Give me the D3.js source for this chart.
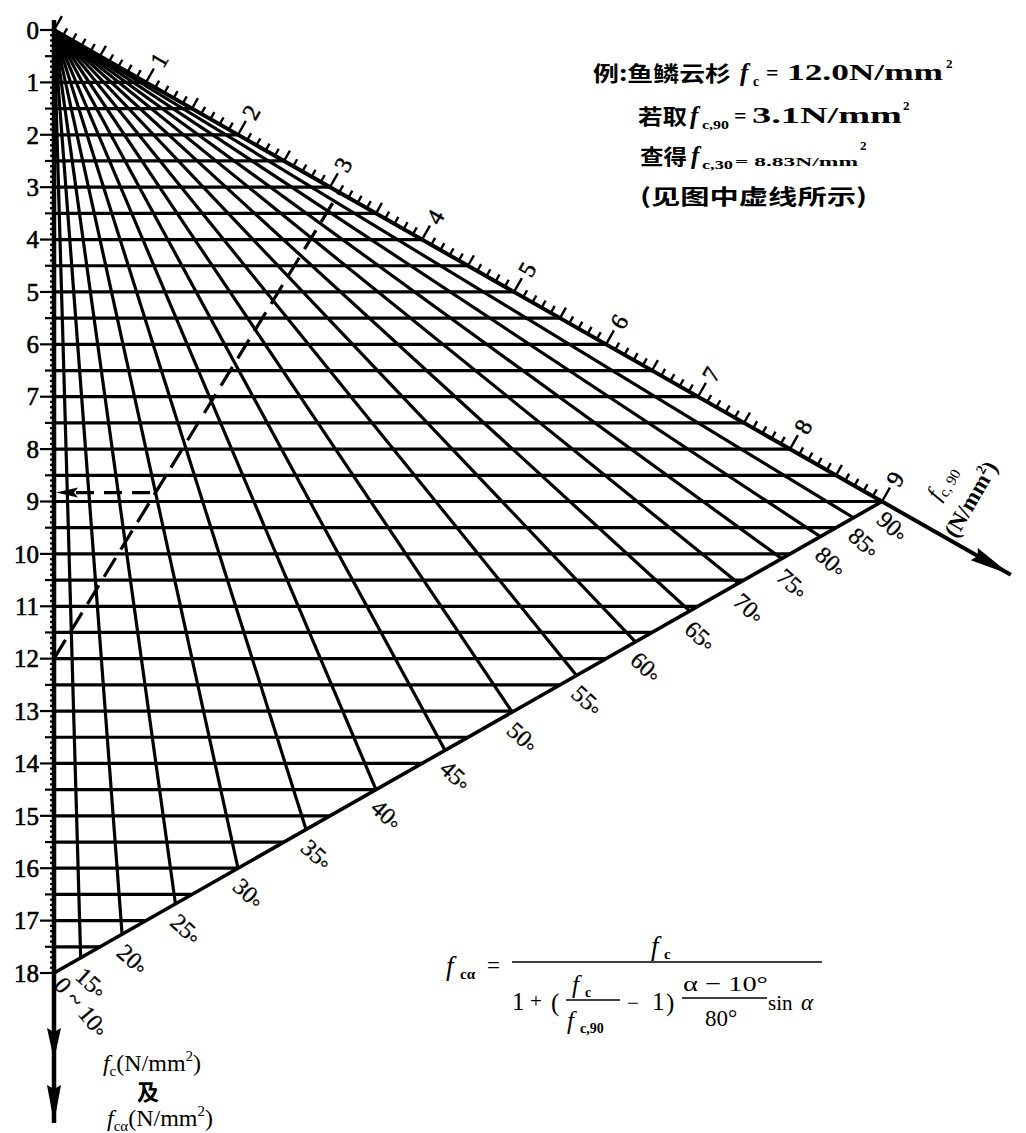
<!DOCTYPE html>
<html>
<head>
<meta charset="utf-8">
<script src="https://cdn.jsdelivr.net/npm/d3@7/dist/d3.min.js"></script>
<style>
  body { margin: 0; background: #fff; }
  svg { display: block; }
  .serif { font-family: "Liberation Serif", "DejaVu Serif", serif; fill: #000; }
  .cjk { font-family: "Noto Sans CJK SC", sans-serif; font-weight: 700; fill: #000; }
</style>
</head>
<body>
<svg id="chart" width="1026" height="1133"></svg>
<script>
// vertical axis: fc (and fca), N/mm2
const fcLabels = ["0", "1", "2", "3", "4", "5", "6", "7", "8", "9", "10", "11", "12", "13", "14", "15", "16", "17", "18"];
// slanted axis: fc,90, N/mm2
const fc90Labels = ["1", "2", "3", "4", "5", "6", "7", "8", "9"];
// grain angle lines and the fc value where each one meets the base line
const alphaLabels = ["15°", "20°", "25°", "30°", "35°", "40°", "45°", "50°", "55°", "60°", "65°", "70°", "75°", "80°", "85°", "90°"];
const alphaEnd = [17.71, 17.26, 16.68, 16.00, 15.26, 14.50, 13.75, 13.02, 12.32, 11.68, 11.09, 10.56, 10.09, 9.67, 9.31, 9.00];

// worked example (dashed)
const exFc = 12.0;
const exFc90 = 3.1;
const exAlpha = "30°";
const exFca = 8.83;

const svg = d3.select("#chart");

// u = position along fc,90 direction, v = fc value (down)
const x = d3.scaleLinear().domain([0, 9]).range([54, 882]);
const y = d3.scaleLinear().domain([0, 18]).range([30, 973]);
const pt = (u, v) => [x(u), y(v)];
const line = d3.line();

const g = svg.append("g");

// horizontal fc lines every 0.5
const rows = d3.range(0.5, 18, 0.5);
g.selectAll(".row")
  .data(rows)
  .enter()
  .append("path")
  .attr("d", v => line([pt(0, v), pt(v <= 9 ? v : 18 - v, v)]))
  .attr("stroke", "#000")
  .attr("stroke-width", 3.2)
  .attr("fill", "none");

// angle lines, from the origin to the base line (90° is the slanted axis itself)
g.selectAll(".ray")
  .data(alphaEnd.slice(0, -1))
  .enter()
  .append("path")
  .attr("d", e => line([pt(0, 0), pt(18 - e, e)]))
  .attr("stroke", "#000")
  .attr("stroke-width", 3.2)
  .attr("fill", "none");

// base line (angle scale)
g.append("path")
  .attr("d", line([pt(0, 18), pt(9, 9)]))
  .attr("stroke", "#000")
  .attr("stroke-width", 3.6);

// arrow head helper
function arrowHead(tip, from, len, half) {
  const dx = tip[0] - from[0], dy = tip[1] - from[1];
  const L = Math.hypot(dx, dy), ux = dx / L, uy = dy / L;
  const bx = tip[0] - ux * len, by = tip[1] - uy * len;
  return "M" + tip[0] + "," + tip[1] +
    "L" + (bx - uy * half) + "," + (by + ux * half) +
    "L" + (bx + ux * 4) + "," + (by + uy * 4) +
    "L" + (bx + uy * half) + "," + (by - ux * half) + "Z";
}

// vertical axis
const vTip1 = [x(0), 1060], vTip2 = [x(0), 1123];
g.append("path")
  .attr("d", line([[x(0), y(0) - 10], vTip2]))
  .attr("stroke", "#000")
  .attr("stroke-width", 4.5)
  .attr("fill", "none");
g.append("path").attr("d", arrowHead(vTip1, [x(0), 0], 32, 7)).attr("fill", "#000");
g.append("path").attr("d", arrowHead(vTip2, [x(0), 0], 38, 7)).attr("fill", "#000");

// vertical axis ticks every 0.1
const vTicks = d3.range(0, 181).map(i => i / 10);
g.selectAll(".vtick")
  .data(vTicks)
  .enter()
  .append("path")
  .attr("d", v => {
    const i = Math.round(v * 10);
    const len = i % 10 === 0 ? 14 : (i % 5 === 0 ? 9 : 4);
    return line([[x(0) - len, y(v)], [x(0), y(v)]]);
  })
  .attr("stroke", "#000")
  .attr("stroke-width", 2.2);

g.selectAll(".vlab")
  .data(fcLabels)
  .enter()
  .append("text")
  .attr("class", "serif")
  .attr("x", 39)
  .attr("y", (d, i) => y(i))
  .attr("dy", "0.35em")
  .attr("text-anchor", "end")
  .attr("font-size", 25)
  .attr("stroke", "#000")
  .attr("stroke-width", 0.6)
  .text(d => d);

// slanted fc,90 axis
const aTip = pt(10.4, 10.4);
g.append("path")
  .attr("d", line([pt(0, 0), aTip]))
  .attr("stroke", "#000")
  .attr("stroke-width", 4);
g.append("path").attr("d", arrowHead(aTip, pt(0, 0), 42, 7)).attr("fill", "#000");

const ax0 = pt(0, 0), ax9 = pt(9, 9);
const aLen = Math.hypot(ax9[0] - ax0[0], ax9[1] - ax0[1]);
const dir = [(ax9[0] - ax0[0]) / aLen, (ax9[1] - ax0[1]) / aLen];
const nrm = [dir[1], -dir[0]];              // outward, up-right
const aAngle = Math.atan2(dir[1], dir[0]) * 180 / Math.PI;

const aTicks = d3.range(0, 91).map(i => i / 10);
g.selectAll(".atick")
  .data(aTicks)
  .enter()
  .append("path")
  .attr("d", u => {
    const i = Math.round(u * 10);
    const len = i % 10 === 0 ? 16 : (i % 5 === 0 ? 12 : 8);
    const p = pt(u, u);
    return line([p, [p[0] + nrm[0] * len, p[1] + nrm[1] * len]]);
  })
  .attr("stroke", "#000")
  .attr("stroke-width", 2.4);

g.selectAll(".alab")
  .data(fc90Labels)
  .enter()
  .append("text")
  .attr("class", "serif")
  .attr("transform", (d, i) => {
    const p = pt(i + 1, i + 1);
    return "translate(" + (p[0] + nrm[0] * 26) + "," + (p[1] + nrm[1] * 26) + ") rotate(" + (aAngle - 90) + ")";
  })
  .attr("text-anchor", "middle")
  .attr("dy", "0.35em")
  .attr("font-size", 24)
  .attr("stroke", "#000")
  .attr("stroke-width", 0.5)
  .text(d => d);

// angle labels along the base line
const b0 = pt(0, 18);
const bLen = Math.hypot(ax9[0] - b0[0], ax9[1] - b0[1]);
const bn = [-(ax9[1] - b0[1]) / bLen, (ax9[0] - b0[0]) / bLen]; // down-right normal

const angLab = g.selectAll(".anglab")
  .data(alphaLabels)
  .enter()
  .append("text")
  .attr("class", "serif")
  .attr("font-size", 24)
  .attr("stroke", "#000")
  .attr("stroke-width", 0.3)
  .attr("transform", (d, i) => {
    const p = pt(18 - alphaEnd[i], alphaEnd[i]);
    return "translate(" + (p[0] + bn[0] * 9) + "," + (p[1] + bn[1] * 9) + ") rotate(42)";
  })
  .attr("dy", "0.7em");
angLab.append("tspan").text(d => d.replace("°", ""));
angLab.append("tspan").attr("dy", "0.2em").attr("font-size", 20).text("°");

const z = g.append("text")
  .attr("class", "serif")
  .attr("font-size", 24)
  .attr("stroke", "#000")
  .attr("stroke-width", 0.3)
  .attr("transform", "translate(" + (b0[0] + 12) + "," + (b0[1] + 2) + ") rotate(50)")
  .attr("dy", "0.7em");
z.append("tspan").text("0 ~ 10");
z.append("tspan").attr("dy", "0.2em").attr("font-size", 20).text("°");

// worked example: fc = 12.0 to fc,90 = 3.1, read at 30°
const exStart = pt(0, exFc), exEnd = pt(exFc90, exFc90);
g.append("path")
  .attr("d", line([exStart, exEnd]))
  .attr("stroke", "#000")
  .attr("stroke-width", 3.2)
  .attr("stroke-dasharray", "22,10");
const tEx = (exFc - exFca) / (exFc - exFc90);
const exHit = pt(exFc90 * tEx, exFca);
g.append("path")
  .attr("d", line([[x(0) + 22, y(exFca)], exHit]))
  .attr("stroke", "#000")
  .attr("stroke-width", 3.2)
  .attr("stroke-dasharray", "18,10");
g.append("path").attr("d", arrowHead([x(0) + 2, y(exFca)], exHit, 22, 5)).attr("fill", "#000");

// axis titles
const rt = svg.append("g").attr("transform", "translate(948,486) rotate(-60)");
const rt1 = rt.append("text").attr("class", "serif").attr("text-anchor", "middle").attr("font-size", 23);
rt1.append("tspan").attr("font-style", "italic").text("f");
rt1.append("tspan").attr("font-size", 15).attr("dy", 5).text("c, 90");
rt.append("text").attr("class", "serif").attr("text-anchor", "middle").attr("font-size", 23)
  .attr("font-weight", "bold").attr("y", 34).html("(N/mm<tspan font-size='14' dy='-9'>2</tspan><tspan dy='9'>)</tspan>");

function unitLabel(cx, by, sub) {
  const t = svg.append("text").attr("class", "serif").attr("x", cx).attr("y", by)
    .attr("text-anchor", "middle").attr("font-size", 24);
  t.append("tspan").attr("font-style", "italic").text("f");
  t.append("tspan").attr("font-size", 15).attr("dy", 5).text(sub);
  t.append("tspan").attr("dy", -5).text("(N/mm");
  t.append("tspan").attr("font-size", 15).attr("dy", -10).text("2");
  t.append("tspan").attr("dy", 10).text(")");
}
unitLabel(152, 1071, "c");
svg.append("text").attr("class", "cjk").attr("x", 148).attr("y", 1100)
  .attr("text-anchor", "middle").attr("font-size", 22).text("及");
unitLabel(160, 1126, "cα");

// note block, top right
function piece(px, py, str, size, cls, opts) {
  const t = svg.append("text").attr("class", cls).attr("x", px).attr("y", py)
    .attr("font-size", size).text(str);
  if (opts && opts.len) t.attr("textLength", opts.len).attr("lengthAdjust", "spacingAndGlyphs");
  if (opts && opts.italic) t.attr("font-style", "italic");
  if (opts && opts.bold) t.attr("font-weight", "bold");
  return t;
}
piece(593, 81, "例:鱼鳞云杉", 21, "cjk", { len: 138 });
piece(740, 81, "f", 25, "serif", { italic: true, bold: true });
piece(753, 86, "c", 14, "serif", { bold: true });
piece(766, 80, "=", 22, "serif", { bold: true });
piece(787, 80, "12.0N/mm", 23, "serif", { len: 156, bold: true });
piece(946, 68, "2", 13, "serif", { bold: true });

piece(638, 124, "若取", 21, "cjk", { len: 49 });
piece(690, 124, "f", 25, "serif", { italic: true, bold: true });
piece(702, 129, "c,90", 13, "serif", { len: 27, bold: true });
piece(734, 123, "=", 22, "serif", { bold: true });
piece(752, 123, "3.1N/mm", 23, "serif", { len: 150, bold: true });
piece(903, 110, "2", 13, "serif", { bold: true });

piece(640, 164, "查得", 21, "cjk", { len: 47 });
piece(691, 164, "f", 25, "serif", { italic: true, bold: true });
piece(702, 169, "c,30", 13, "serif", { len: 31, bold: true });
piece(735, 166, "= 8.83N/mm", 12, "serif", { len: 123, bold: true });
piece(860, 150, "2", 13, "serif", { bold: true });

piece(640, 204, "(见图中虚线所示)", 21, "cjk", { len: 227 });

// formula, bottom right
const fm = svg.append("g").attr("class", "formula");
piece(446, 975, "f", 27, "serif", { italic: true });
piece(460, 979, "cα", 15, "serif", { bold: true });
piece(487, 973, "=", 23, "serif", {});
fm.append("path").attr("d", line([[512, 962], [822, 962]])).attr("stroke", "#000").attr("stroke-width", 1.6);
piece(651, 955, "f", 27, "serif", { italic: true });
piece(664, 959, "c", 15, "serif", { bold: true });
piece(512, 1010, "1", 25, "serif", {});
piece(530, 1008, "+", 21, "serif", {});
piece(551, 1011, "(", 25, "serif", {});
piece(572, 993, "f", 25, "serif", { italic: true });
piece(585, 997, "c", 14, "serif", { bold: true });
fm.append("path").attr("d", line([[566, 1000], [620, 1000]])).attr("stroke", "#000").attr("stroke-width", 1.4);
piece(567, 1029, "f", 25, "serif", { italic: true });
piece(580, 1033, "c,90", 14, "serif", { bold: true });
piece(627, 1010, "−", 21, "serif", {});
piece(652, 1010, "1", 25, "serif", {});
piece(666, 1011, ")", 25, "serif", {});
piece(683, 991, "α − 10°", 22, "serif", { len: 85 });
fm.append("path").attr("d", line([[682, 998], [767, 998]])).attr("stroke", "#000").attr("stroke-width", 1.4);
piece(705, 1026, "80°", 23, "serif", {});
piece(768, 1010, "sin", 21, "serif", {});
piece(801, 1010, "α", 23, "serif", { italic: true });
</script>
</body>
</html>
